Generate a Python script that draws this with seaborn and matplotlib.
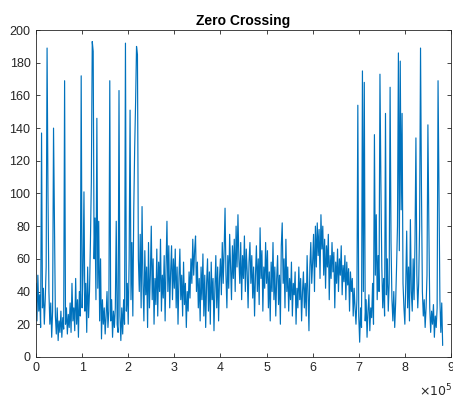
import numpy as np
import pandas as pd
import matplotlib
matplotlib.use("Agg")
import matplotlib.pyplot as plt
import seaborn as sns

# Zero-crossing counts per frame, one array per 1e5-sample block (step 2000)
block0 = [45, 22, 50, 28, 38, 18, 137, 30, 42, 20, 35, 55, 189, 98, 40, 20, 33, 12, 28, 140,
          81, 25, 14, 30, 10, 22, 15, 28, 12, 24, 17, 169, 20, 30, 14, 26, 18, 33, 15, 45,
          22, 30, 16, 48, 20, 35, 12, 40, 25, 172]
block1 = [30, 50, 101, 28, 45, 15, 55, 24, 40, 70, 107, 193, 187, 60, 85, 35, 146, 42, 83, 22,
          60, 11, 35, 20, 30, 14, 25, 40, 18, 28, 169, 22, 35, 12, 28, 18, 30, 83, 20, 15,
          163, 25, 10, 30, 14, 35, 20, 192, 28, 45]
block2 = [20, 60, 151, 35, 70, 25, 90, 128, 156, 190, 185, 60, 40, 75, 30, 92, 45, 22, 65, 38,
          55, 18, 70, 30, 50, 80, 35, 60, 20, 48, 32, 66, 25, 58, 40, 72, 28, 50, 36, 62,
          22, 55, 83, 40, 68, 30, 52, 68, 35, 60]
block3 = [42, 66, 30, 55, 20, 48, 66, 35, 50, 25, 58, 32, 45, 18, 40, 28, 52, 36, 60, 45,
          72, 50, 65, 74, 40, 58, 30, 48, 22, 55, 35, 63, 25, 50, 18, 45, 60, 28, 52, 20,
          58, 35, 48, 16, 42, 62, 30, 55, 22, 48]
block4 = [60, 38, 70, 45, 65, 91, 50, 30, 62, 42, 75, 55, 35, 68, 48, 72, 40, 80, 55, 87,
          60, 45, 70, 35, 62, 48, 74, 40, 66, 52, 30, 58, 70, 45, 62, 36, 55, 25, 50, 68,
          40, 60, 32, 79, 48, 65, 28, 55, 42, 70]
block5 = [45, 65, 30, 52, 22, 58, 40, 70, 35, 55, 25, 48, 62, 32, 50, 20, 68, 82, 45, 60,
          30, 72, 40, 55, 28, 48, 35, 58, 25, 45, 38, 52, 20, 42, 30, 55, 35, 48, 22, 40,
          52, 30, 45, 25, 62, 38, 16, 55, 70, 45]
block6 = [58, 75, 40, 80, 55, 82, 62, 78, 48, 87, 66, 80, 50, 72, 42, 68, 55, 75, 35, 62,
          48, 70, 52, 64, 30, 58, 45, 66, 40, 60, 50, 68, 38, 56, 46, 62, 35, 58, 44, 54,
          28, 52, 40, 48, 25, 42, 30, 20, 35, 154]
block7 = [25, 9, 30, 18, 175, 40, 168, 22, 35, 12, 28, 38, 16, 30, 24, 45, 20, 136, 50, 87,
          35, 62, 40, 173, 107, 55, 30, 48, 25, 149, 38, 60, 28, 45, 165, 70, 35, 22, 40, 18,
          33, 55, 80, 186, 65, 181, 90, 149, 45, 30]
block8 = [20, 45, 77, 30, 55, 22, 84, 40, 28, 60, 35, 70, 134, 50, 30, 45, 80, 189, 103, 40,
          25, 35, 18, 30, 50, 142, 81, 30, 15, 28, 20, 32, 12, 25, 18, 30, 169, 98, 35, 15,
          33, 7]

blocks = [block0, block1, block2, block3, block4, block5, block6, block7, block8]
zc = np.concatenate([np.asarray(b, dtype=float) for b in blocks])
sample = np.arange(len(zc)) * 2000
df = pd.DataFrame({"sample": sample, "zc": zc})

x_ticks = np.arange(0, 10)          # tick labels in units of 1e5 samples
y_ticks = np.arange(0, 201, 20)

sns.set_style("ticks")
plt.rcParams["font.family"] = ["Liberation Sans", "DejaVu Sans"]
axis_col = "#262626"

fig = plt.figure(figsize=(4.53, 4.01), dpi=100)
ax = fig.add_axes([0.0795, 0.110, 0.916, 0.815])
sns.lineplot(data=df, x="sample", y="zc", ax=ax, color="#0072BD", linewidth=0.85)

ax.set_xlim(0, 9e5)
ax.set_ylim(0, 200)
ax.set_xticks(x_ticks * 1e5)
ax.set_xticklabels([str(t) for t in x_ticks])
ax.set_yticks(y_ticks)
ax.set_xlabel("")
ax.set_ylabel("")
ax.set_title("Zero Crossing", fontsize=10, fontweight="bold", color="black", pad=4)

for s in ax.spines.values():
    s.set_visible(True)
    s.set_color(axis_col)
    s.set_linewidth(0.6)
ax.tick_params(direction="in", length=3, width=0.6, colors=axis_col,
               labelsize=9, top=True, right=True, pad=4)

# exponent of the x axis, bottom right
fig.text(452 / 453, 1 - 399 / 401, r"$\times10^{5}$", ha="right", va="bottom",
         fontsize=9, color=axis_col)

fig.savefig("out.png", dpi=100, facecolor="white")
